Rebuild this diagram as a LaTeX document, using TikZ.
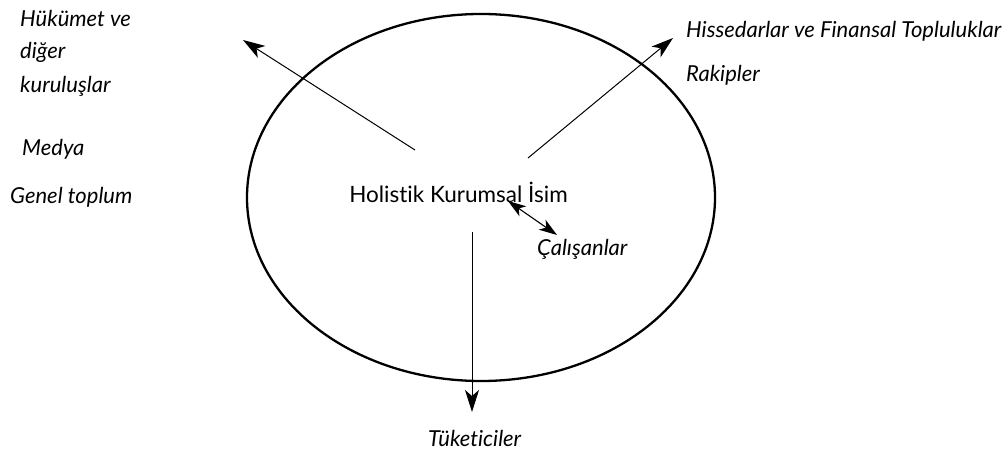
\documentclass[tikz,border=0pt]{standalone}
\usepackage{fontspec}
\setmainfont{Lato}[Ligatures={NoCommon}]
\usetikzlibrary{arrows.meta,shapes.geometric}
\begin{document}
\begin{tikzpicture}[x=1pt,y=-1pt,
  lbl/.style={font=\fontsize{22}{26}\selectfont\itshape, inner sep=0pt, anchor=west},
  arr/.style={line width=1pt, -{Stealth[length=22pt,width=14pt,inset=6pt]}},
  darr/.style={line width=1.1pt, {Stealth[length=18pt,width=12pt,inset=5pt]}-{Stealth[length=18pt,width=12pt,inset=5pt]}}]
\useasboundingbox (0,0) rectangle (1004,454);
\node[draw, ellipse, line width=2.3pt, minimum width=468pt, minimum height=367pt, inner sep=0pt] (e) at (481,197.5) {};
\node[font=\fontsize{22.5}{26}\selectfont, inner sep=0pt] (h) at (458.5,192) {Holistik Kurumsal İsim};
\node[lbl] (huk) at (20,18) {Hükümet ve};
\node[lbl] (dig) at (20,52) {diğer};
\node[lbl] (kur) at (20,86) {kuruluşlar};
\node[lbl] (med) at (22,149) {Medya};
\node[lbl] (gen) at (10,197) {Genel toplum};
\node[lbl] (his) at (686,31) {Hissedarlar ve Finansal Topluluklar};
\node[lbl] (rak) at (686,75) {Rakipler};
\node[lbl] (cal) at (537,249) {Çalışanlar};
\node[lbl] (tuk) at (428,438) {Tüketiciler};
\coordinate (a1s) at (415,150); \coordinate (a1e) at (243,40);
\coordinate (a2s) at (528,158); \coordinate (a2e) at (673,38);
\coordinate (a3s) at (472,232); \coordinate (a3e) at (472,412);
\coordinate (a4s) at (508,201); \coordinate (a4e) at (557,235);
\draw[arr] (a1s) -- (a1e);
\draw[arr] (a2s) -- (a2e);
\draw[arr] (a3s) -- (a3e);
\draw[darr] (a4s) -- (a4e);
\end{tikzpicture}
\end{document}
